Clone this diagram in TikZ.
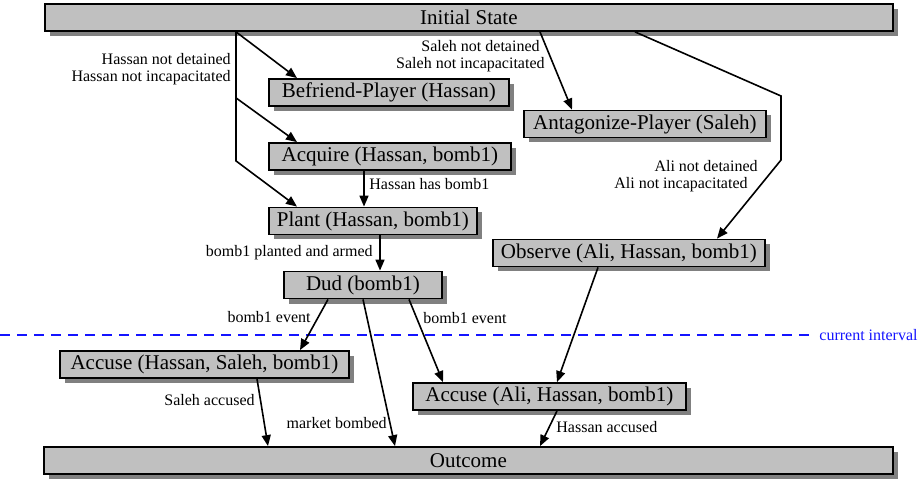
\documentclass[tikz,border=0pt]{standalone}
\usepackage{fontspec}
\setmainfont{Liberation Serif}
\usetikzlibrary{arrows.meta,shadows,calc}
\definecolor{boxGray}{RGB}{192,192,192}
\definecolor{shadeGray}{RGB}{128,128,128}
\definecolor{ivBlue}{RGB}{20,20,255}

\begin{document}
\begin{tikzpicture}[
  x=0.5pt, y=-0.5pt,
  act/.style={draw=black, fill=boxGray, line width=0.9pt, minimum width=#1,
              minimum height=13.5pt, inner sep=0pt, anchor=west,
              font=\fontsize{10.5}{12}\selectfont,
              drop shadow={shadow xshift=2.5pt, shadow yshift=-2.5pt,
                           fill=shadeGray, opacity=1}},
  lab/.style={font=\fontsize{8}{8.5}\selectfont, inner sep=0pt, align=right},
  flow/.style={-{Triangle[length=5.5pt,width=4.5pt]}, line width=0.8pt},
  interval/.style={draw=ivBlue, dash pattern=on 5pt off 3.5pt, line width=0.8pt},
]
\useasboundingbox (0,0) rectangle (924,480);

% ---------------- current interval ----------------
\coordinate (ivStart) at (0,335);
\node[lab, text=ivBlue, anchor=west] (curint) at (819,335) {current interval};
\draw[interval] (ivStart) -- ($(curint.west)+(-9,0)$);

% ---------------- actions ----------------
\node[act=424pt]   (init)     at (44,17.5)   {Initial State};
\node[act=120pt]   (befriend) at (268,92.5)  {Befriend-Player (Hassan)};
\node[act=121pt]   (antag)    at (523,124)   {Antagonize-Player (Saleh)};
\node[act=121pt]   (acquire)  at (268,156.5) {Acquire (Hassan, bomb1)};
\node[act=104pt]   (plant)    at (268,221)   {Plant (Hassan, bomb1)};
\node[act=79pt]    (dud)      at (283,285)   {Dud (bomb1)};
\node[act=136pt]   (observe)  at (492,253)   {Observe (Ali, Hassan, bomb1)};
\node[act=144.5pt] (accuseHS) at (59,364.5)  {Accuse (Hassan, Saleh, bomb1)};
\node[act=136.5pt] (accuseAH) at (412,396.5) {Accuse (Ali, Hassan, bomb1)};
\node[act=424.5pt] (outcome)  at (43,460.5)  {Outcome};

% ---------------- Hassan's branch ----------------
\coordinate (hTop) at ($(init.south west)+(192,0)$);
\coordinate (hMid) at ($(hTop)+(0,66)$);
\coordinate (hLow) at ($(hTop)+(0,129)$);
\draw[flow] (hTop) -- ($(befriend.north west)+(29,0)$);
\draw[flow] (hMid) -- ($(acquire.north west)+(29,0)$);
\draw[flow] (hTop) -- (hLow) -- ($(plant.north west)+(29,0)$);
\node[lab, anchor=east] (lHassan) at (231,69) {Hassan not detained\\Hassan not incapacitated};

% ---------------- Saleh and Ali ----------------
\draw[flow] ($(init.south west)+(496,0)$) -- ($(antag.north west)+(49,0)$);
\node[lab, anchor=east] (lSaleh) at (545,56)
  {Saleh not detained\hspace*{2.5pt}\\Saleh not incapacitated};
\coordinate (aBend) at (781,96);
\coordinate (aLow) at (781,160);
\draw[flow] ($(init.south west)+(591,0)$) -- (aBend) -- (aLow)
  -- ($(observe.north west)+(225,0)$);
\node[lab, anchor=east] (lAli) at (758,176.5)
  {Ali not detained\\Ali not incapacitated\hspace*{5pt}};

% ---------------- bomb chain ----------------
\draw[flow] ($(acquire.south west)+(96,0)$) -- ($(plant.north west)+(96,0)$);
\node[lab, anchor=west] (lHas) at (369,184) {Hassan has bomb1};
\draw[flow] ($(plant.south west)+(112,0)$) -- ($(dud.north west)+(97,0)$);
\node[lab, anchor=east] (lArmed) at (373,253) {bomb1 planted and armed};
\draw[flow] ($(dud.south west)+(45,0)$) -- ($(accuseHS.north west)+(241,0)$);
\node[lab, anchor=east] (lEvL) at (311,317) {bomb1 event};
\draw[flow] ($(dud.south west)+(80,0)$) -- ($(outcome.north west)+(352,0)$);
\node[lab, anchor=east] (lMarket) at (387,423) {market bombed};
\draw[flow] ($(dud.south west)+(126,0)$) -- ($(accuseAH.north west)+(31,0)$);
\node[lab, anchor=west] (lEvR) at (423,318) {bomb1 event};
\draw[flow] ($(observe.south west)+(106,0)$) -- ($(accuseAH.north west)+(145,0)$);

% ---------------- accusations ----------------
\draw[flow] ($(accuseHS.south west)+(198,0)$) -- ($(outcome.north west)+(225,0)$);
\node[lab, anchor=east] (lSalehAcc) at (255,400) {Saleh accused};
\draw[flow] ($(accuseAH.south west)+(145,0)$) -- ($(outcome.north west)+(497,0)$);
\node[lab, anchor=west] (lHasAcc) at (556,427) {Hassan accused};
\end{tikzpicture}
\end{document}
